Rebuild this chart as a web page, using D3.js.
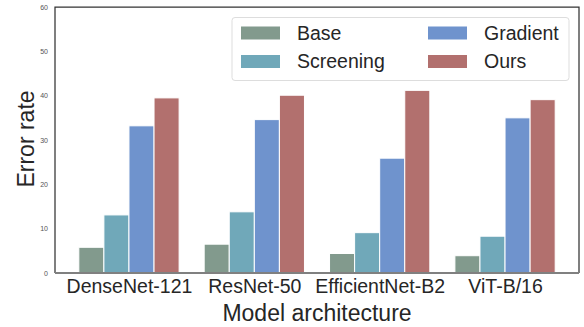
<!DOCTYPE html>
<html>
<head>
<meta charset="utf-8">
<script src="https://cdn.jsdelivr.net/npm/d3@7"></script>
<style>
  body { margin: 0; background: #fff; }
  svg { font-family: "Liberation Sans", Arial, sans-serif; }
</style>
</head>
<body>
<svg id="chart"></svg>
<script>
// chart data
const models = ['DenseNet-121', 'ResNet-50', 'EfficientNet-B2', 'ViT-B/16'];
const methods = ['Base', 'Screening', 'Gradient', 'Ours'];
const base = [5.8, 6.5, 4.4, 3.9];
const screening = [13.1, 13.8, 9.1, 8.3];
const gradient = [33.2, 34.6, 25.9, 35.0];
const ours = [39.5, 40.1, 41.2, 39.1];
const yTicks = [0, 10, 20, 30, 40, 50, 60];

const series = [base, screening, gradient, ours];
const colors = ['#829a8d', '#70a8b9', '#6f93cd', '#b2706e'];

const width = 584, height = 327;
const margin = {top: 7, right: 5, bottom: 54, left: 55};
const w = width - margin.left - margin.right;
const h = height - margin.top - margin.bottom;

const svg = d3.select('#chart')
    .attr('width', width)
    .attr('height', height);

const chart = svg.append('g')
    .attr('transform', `translate(${margin.left},${margin.top})`);

// categorical positions as indices, like matplotlib's xlim
const xScale = d3.scaleLinear()
    .domain([-0.59, 3.59])
    .range([0, w]);

const yScale = d3.scaleLinear()
    .domain([0, 60])
    .range([h, 0]);

const barW = 0.8 / methods.length;

// bars
const rows = [];
series.forEach((vals, j) => {
  vals.forEach((v, i) => rows.push({model: i, method: j, value: v}));
});

chart.selectAll('.bar')
    .data(rows)
  .join('rect')
    .attr('class', 'bar')
    .attr('x', d => xScale(d.model - 0.4 + d.method * barW))
    .attr('width', d => xScale(barW) - xScale(0))
    .attr('y', d => yScale(d.value))
    .attr('height', d => h - yScale(d.value))
    .attr('fill', d => colors[d.method])
    .attr('stroke', '#fff')
    .attr('stroke-width', 1);

// axes
const yAxis = d3.axisLeft(yScale)
    .tickValues(yTicks)
    .tickSize(0)
    .tickPadding(7);

const yAxisG = chart.append('g').call(yAxis);
yAxisG.select('.domain').remove();
yAxisG.selectAll('text')
    .attr('font-size', 7)
    .attr('fill', '#555');

const xAxis = d3.axisBottom(xScale)
    .tickValues(d3.range(models.length))
    .tickFormat(i => models[i])
    .tickSize(0)
    .tickPadding(6);

const xAxisG = chart.append('g')
    .attr('transform', `translate(0,${h})`)
    .call(xAxis);
xAxisG.select('.domain').remove();
xAxisG.selectAll('text')
    .attr('font-size', 19.5)
    .attr('fill', '#262626');

// frame
chart.append('path')
    .attr('d', `M0,${h}V0H${w}V${h}`)
    .attr('fill', 'none')
    .attr('stroke', '#333')
    .attr('stroke-width', 1.25);
chart.append('line')
    .attr('x1', 0).attr('x2', w)
    .attr('y1', h).attr('y2', h)
    .attr('stroke', '#808080')
    .attr('stroke-width', 2);

// axis titles
svg.append('text')
    .attr('x', margin.left + w / 2)
    .attr('y', 321)
    .attr('text-anchor', 'middle')
    .attr('font-size', 23)
    .attr('fill', '#262626')
    .text('Model architecture');

svg.append('text')
    .attr('transform', `translate(34,139) rotate(-90)`)
    .attr('text-anchor', 'middle')
    .attr('font-size', 23)
    .attr('fill', '#262626')
    .text('Error rate');

// legend
const legend = svg.append('g')
    .attr('transform', 'translate(232,17.5)');

legend.append('rect')
    .attr('width', 337)
    .attr('height', 63)
    .attr('rx', 3)
    .attr('fill', '#fff')
    .attr('fill-opacity', 0.8)
    .attr('stroke', '#ddd')
    .attr('stroke-width', 1);

const items = legend.selectAll('.item')
    .data(methods)
  .join('g')
    .attr('class', 'item')
    .attr('transform', (d, i) => `translate(${i < 2 ? 9 : 196},${(i % 2) * 28.5 + 9})`);

items.append('rect')
    .attr('width', 39)
    .attr('height', 13)
    .attr('fill', (d, i) => colors[i]);

items.append('text')
    .attr('x', 56)
    .attr('y', 13)
    .attr('font-size', 19.5)
    .attr('fill', '#262626')
    .text(d => d);
</script>
</body>
</html>
